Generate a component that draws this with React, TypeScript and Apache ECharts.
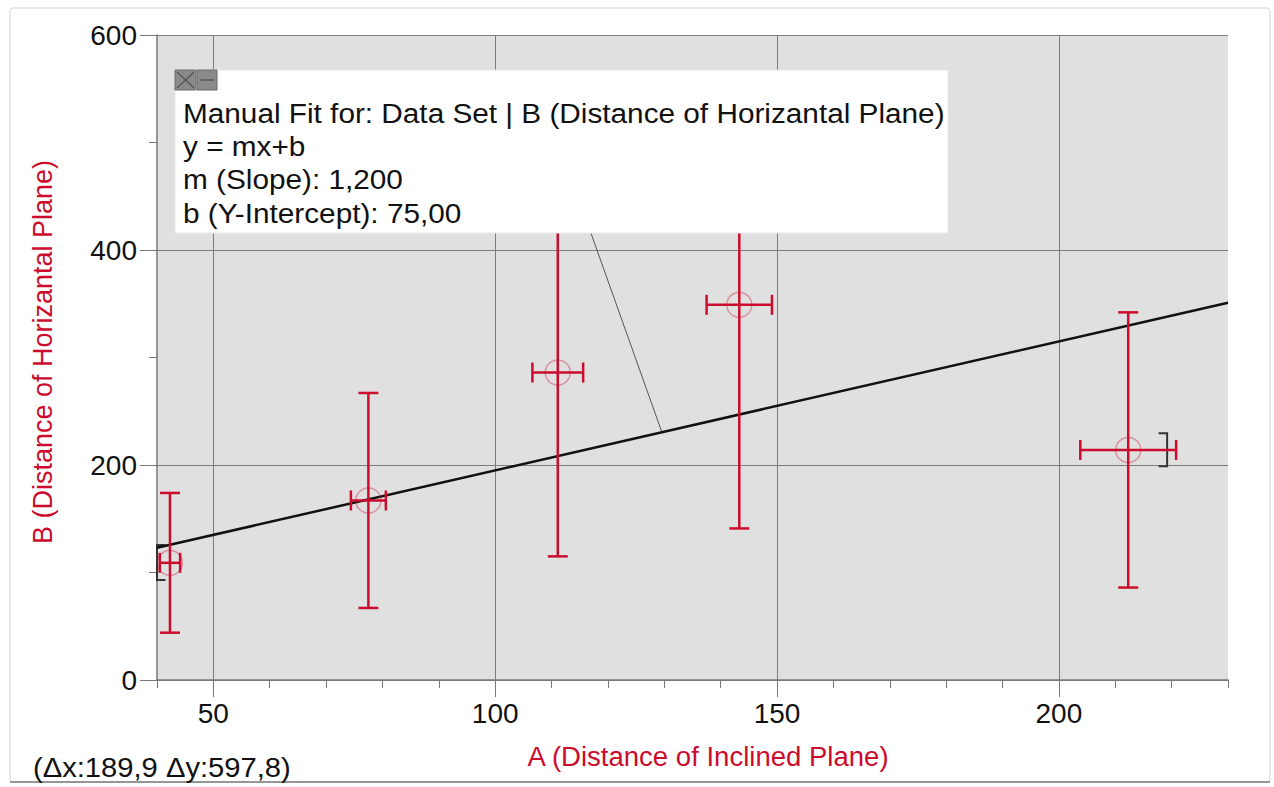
import React, { useEffect, useRef } from "react";
import * as echarts from "echarts";

// ---- data ----
const xMin = 40;
const xMax = 230;
const yMin = 0;
const yMax = 600;
const xMajorTicks = [50, 100, 150, 200];
const yMajorInterval = 200;
const xMinorInterval = 10;
const yMinorInterval = 100;

// points: A, B, and their uncertainties
const pointsA = [42.3, 77.5, 111.1, 143.3, 212.3];
const pointsB = [109, 167, 286, 349, 214];
const errA = [1.8, 3.1, 4.5, 5.8, 8.5];
const errB = [65, 100, 171, 208, 128];

// manual fit line endpoints (y = 1.2x + 75)
const fitLine = [
  [40, 123],
  [230, 351],
];
// fit range brackets: [x, yLow, yHigh, side]
const brackets = [
  [40, 93, 125.6, 1],
  [219.2, 198.8, 229.5, -1],
];
// annotation leader line from the fit box to the fit line
const leaderLine = [
  [117, 415.5],
  [129.5, 231.5],
];

const fitBoxLines = [
  "Manual Fit for: Data Set | B (Distance of Horizantal Plane)",
  "y = mx+b",
  "m (Slope): 1,200",
  "b (Y-Intercept): 75,00",
];
const xTitle = "A (Distance of Inclined Plane)";
const yTitle = "B (Distance of Horizantal Plane)";
const deltaText = "(Δx:189,9 Δy:597,8)";

const RED = "#cc0c2c";
const FONT = "'Liberation Sans', Arial, sans-serif";
const GRIDLINE = "#7c7c7c";

export default function App() {
  const ref = useRef<HTMLDivElement>(null);
  useEffect(() => {
    if (!ref.current) return;
    const chart = echarts.init(ref.current, null, { renderer: "svg" });
    const errData = pointsA.map((a, i) => [a, pointsB[i], errA[i], errB[i]]);
    const scatterData = pointsA.map((a, i) => [a, pointsB[i]]);

    const option: any = {
      animation: false,
      backgroundColor: "#ffffff",
      grid: {
        left: 157,
        top: 35,
        width: 1071,
        height: 645,
        show: true,
        backgroundColor: "#e0e0e0",
        borderWidth: 0,
      },
      xAxis: [
        {
          type: "value",
          min: xMin,
          max: xMax,
          interval: xMinorInterval,
          position: "bottom",
          axisLine: { show: true, lineStyle: { color: "#777", width: 1.5 } },
          axisTick: { show: true, length: 8, lineStyle: { color: "#777", width: 1 } },
          axisLabel: { show: false },
          splitLine: { show: false },
        },
        {
          type: "value",
          min: xMin,
          max: xMax,
          position: "bottom",
          axisLine: { show: false },
          axisTick: {
            show: true,
            length: 17,
            customValues: xMajorTicks,
            lineStyle: { color: "#777", width: 1 },
          },
          axisLabel: {
            show: true,
            customValues: xMajorTicks,
            margin: 19,
            fontSize: 28,
            color: "#111",
            fontFamily: FONT,
          },
          splitLine: {
            show: true,
            customValues: xMajorTicks,
            lineStyle: { color: GRIDLINE, width: 1 },
          },
        },
      ],
      yAxis: [
        {
          type: "value",
          min: yMin,
          max: yMax,
          interval: yMinorInterval,
          position: "left",
          axisLine: { show: true, lineStyle: { color: "#777", width: 1.5 } },
          axisTick: { show: true, length: 8, lineStyle: { color: "#777", width: 1 } },
          axisLabel: { show: false },
          splitLine: { show: false },
        },
        {
          type: "value",
          min: yMin,
          max: yMax,
          interval: yMajorInterval,
          position: "left",
          offset: 0,
          axisLine: { show: false },
          axisTick: { show: true, length: 17, lineStyle: { color: "#777", width: 1 } },
          axisLabel: {
            show: true,
            margin: 20,
            fontSize: 28,
            color: "#111",
            fontFamily: FONT,
          },
          splitLine: { show: true, lineStyle: { color: GRIDLINE, width: 1 } },
        },
      ],
      series: [
        {
          type: "line",
          xAxisIndex: 0,
          yAxisIndex: 0,
          data: leaderLine,
          symbol: "none",
          lineStyle: { color: "#555", width: 1 },
          z: 3,
        },
        {
          type: "line",
          xAxisIndex: 0,
          yAxisIndex: 0,
          data: fitLine,
          symbol: "none",
          lineStyle: { color: "#111", width: 2.5 },
          z: 4,
        },
        {
          type: "custom",
          xAxisIndex: 0,
          yAxisIndex: 0,
          data: brackets,
          encode: { x: 0, y: 1 },
          clip: false,
          z: 4,
          renderItem: (_p: any, api: any) => {
            const x = api.value(0);
            const lo = api.coord([x, api.value(1)]);
            const hi = api.coord([x, api.value(2)]);
            const side = api.value(3);
            const arm = 8.5 * side;
            return {
              type: "polyline",
              shape: {
                points: [
                  [hi[0] + arm, hi[1]],
                  [hi[0], hi[1]],
                  [lo[0], lo[1]],
                  [lo[0] + arm, lo[1]],
                ],
              },
              style: { stroke: "#333", lineWidth: 2, fill: null },
            };
          },
        },
        {
          type: "custom",
          xAxisIndex: 0,
          yAxisIndex: 0,
          data: errData,
          encode: { x: 0, y: 1 },
          clip: false,
          z: 5,
          renderItem: (_p: any, api: any) => {
            const x = api.value(0);
            const y = api.value(1);
            const ex = api.value(2);
            const ey = api.value(3);
            const top = api.coord([x, y + ey]);
            const bot = api.coord([x, y - ey]);
            const l = api.coord([x - ex, y]);
            const r = api.coord([x + ex, y]);
            const cap = 10;
            const style = { stroke: RED, lineWidth: 2.5, fill: null };
            const ln = (x1: number, y1: number, x2: number, y2: number) => ({
              type: "line",
              shape: { x1, y1, x2, y2 },
              style,
            });
            return {
              type: "group",
              children: [
                ln(top[0], top[1], bot[0], bot[1]),
                ln(top[0] - cap, top[1], top[0] + cap, top[1]),
                ln(bot[0] - cap, bot[1], bot[0] + cap, bot[1]),
                ln(l[0], l[1], r[0], r[1]),
                ln(l[0], l[1] - cap, l[0], l[1] + cap),
                ln(r[0], r[1] - cap, r[0], r[1] + cap),
              ],
            };
          },
        },
        {
          type: "scatter",
          xAxisIndex: 0,
          yAxisIndex: 0,
          data: scatterData,
          symbol: "circle",
          symbolSize: 25,
          itemStyle: {
            color: "rgba(0,0,0,0)",
            borderColor: "rgba(204,12,44,0.45)",
            borderWidth: 1.5,
          },
          z: 6,
        },
      ],
      graphic: [
        {
          type: "rect",
          z: 0,
          silent: true,
          shape: { x: 10, y: 8, width: 1260, height: 774, r: 3 },
          style: { fill: null, stroke: "#d4d4d4", lineWidth: 1 },
        },
        {
          type: "line",
          z: 0,
          silent: true,
          shape: { x1: 10, y1: 782, x2: 1270, y2: 782 },
          style: { stroke: "#7a7a7a", lineWidth: 1.5 },
        },
        {
          type: "rect",
          z: 100,
          shape: { x: 175, y: 70, width: 773, height: 163 },
          style: { fill: "#ffffff", stroke: "#e8e8e8", lineWidth: 1 },
        },
        {
          type: "rect",
          z: 101,
          shape: { x: 175, y: 70, width: 21, height: 20 },
          style: { fill: "#8a8a8a", stroke: "#6a6a6a", lineWidth: 1 },
        },
        {
          type: "rect",
          z: 101,
          shape: { x: 197, y: 70, width: 20, height: 20 },
          style: { fill: "#8a8a8a", stroke: "#6a6a6a", lineWidth: 1 },
        },
        {
          type: "line",
          z: 102,
          shape: { x1: 177, y1: 72, x2: 194, y2: 88 },
          style: { stroke: "#555", lineWidth: 1.2 },
        },
        {
          type: "line",
          z: 102,
          shape: { x1: 194, y1: 72, x2: 177, y2: 88 },
          style: { stroke: "#555", lineWidth: 1.2 },
        },
        {
          type: "line",
          z: 102,
          shape: { x1: 200, y1: 80, x2: 214, y2: 80 },
          style: { stroke: "#555", lineWidth: 1.5 },
        },
        ...fitBoxLines.map((t, i) => ({
          type: "text",
          z: 103,
          x: 183,
          y: 113 + i * 33.3,
          scaleX: 1.063,
          style: {
            text: t,
            fill: "#111",
            font: `28px ${FONT}`,
            align: "left",
            verticalAlign: "middle",
          },
        })),
        {
          type: "text",
          z: 103,
          x: 708,
          y: 757,
          scaleX: 1.02,
          style: {
            text: xTitle,
            fill: RED,
            font: `27px ${FONT}`,
            align: "center",
            verticalAlign: "middle",
          },
        },
        {
          type: "text",
          z: 103,
          x: 43,
          y: 352,
          rotation: Math.PI / 2,
          style: {
            text: yTitle,
            fill: RED,
            font: `27px ${FONT}`,
            align: "center",
            verticalAlign: "middle",
          },
        },
        {
          type: "text",
          z: 103,
          x: 33,
          y: 768,
          scaleX: 1.08,
          style: {
            text: deltaText,
            fill: "#111",
            font: `27px ${FONT}`,
            align: "left",
            verticalAlign: "middle",
          },
        },
      ],
    };
    chart.setOption(option);
    return () => chart.dispose();
  }, []);
  return (
    <div
      ref={ref}
      style={{ position: "fixed", left: 0, top: 0, width: 1274, height: 787 }}
    />
  );
}
